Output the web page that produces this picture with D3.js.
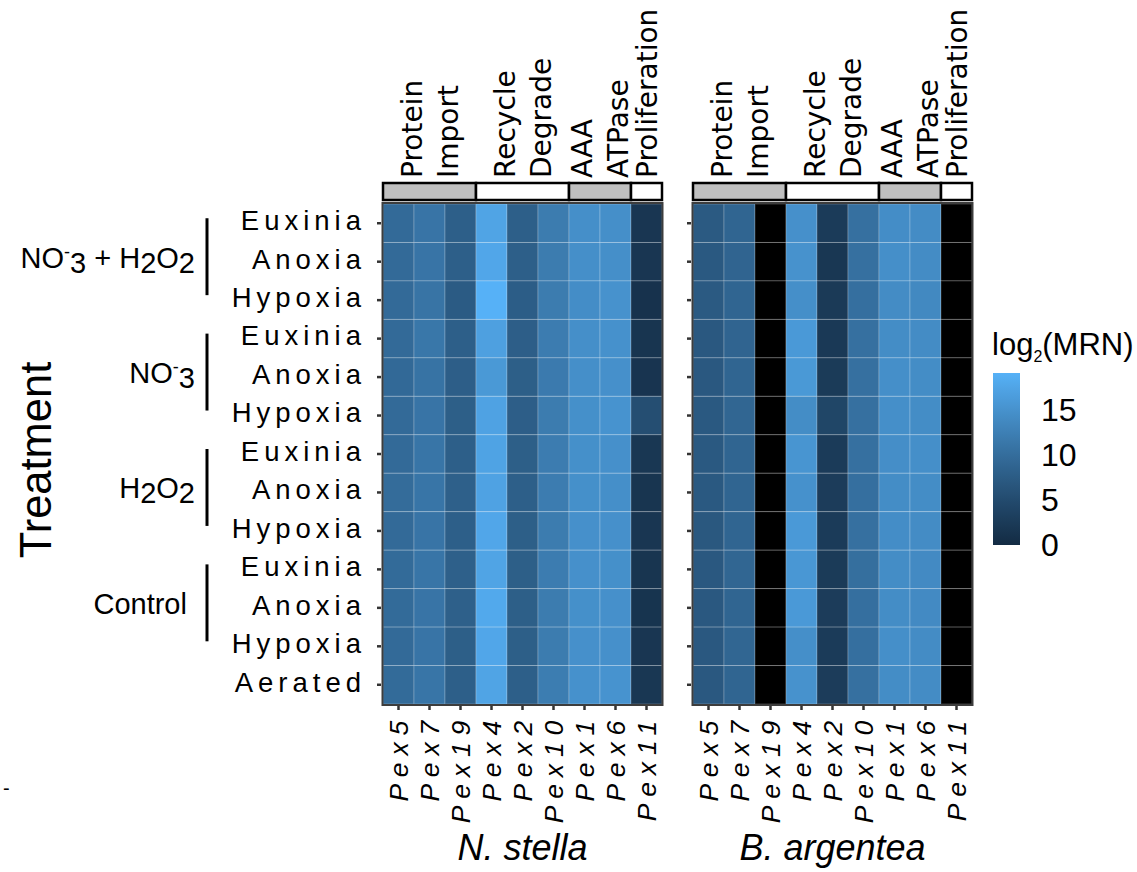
<!DOCTYPE html>
<html>
<head>
<meta charset="utf-8">
<script src="https://cdn.jsdelivr.net/npm/d3@7"></script>
<style>
  body { margin: 0; background: #fff; }
</style>
</head>
<body>
<div id="chart"></div>
<script>
// genes on x, conditions on y
const genes = ["Pex5", "Pex7", "Pex19", "Pex4", "Pex2", "Pex10", "Pex1", "Pex6", "Pex11"];
const conditions = ["Euxinia", "Anoxia", "Hypoxia", "Euxinia", "Anoxia", "Hypoxia",
  "Euxinia", "Anoxia", "Hypoxia", "Euxinia", "Anoxia", "Hypoxia", "Aerated"];
const species = ["N. stella", "B. argentea"];

// treatment groups (label parts: text + sub/sup flag) and the rows they cover
const treatmentLabels = [
  [["NO", ""], ["-", "sup"], ["3", "sub"], [" + H", ""], ["2", "sub"], ["O", ""], ["2", "sub"]],
  [["NO", ""], ["-", "sup"], ["3", "sub"]],
  [["H", ""], ["2", "sub"], ["O", ""], ["2", "sub"]],
  [["Control\u00a0", ""]]
];
const treatmentFirst = [0, 3, 6, 9];
const treatmentLast = [2, 5, 8, 11];

// functional groups along the top
const functionLabels = [["Protein", "Import"], ["Recycle", "Degrade"], ["AAA", "ATPase"], ["Proliferation"]];
const functionFirst = ["Pex5", "Pex4", "Pex1", "Pex11"];
const functionLast = ["Pex19", "Pex10", "Pex6", "Pex11"];

// log2(MRN), rows = conditions, cols = genes (null = not detected)
const nStella = [
  [9.6, 11.0, 8.0, 17.4, 8.0, 12.0, 14.6, 14.6, 1.8],
  [9.6, 11.0, 8.0, 17.7, 8.0, 12.0, 14.6, 14.6, 1.8],
  [9.6, 10.9, 7.4, 19.1, 7.7, 12.0, 14.4, 15.0, 1.2],
  [9.6, 11.3, 8.0, 16.9, 7.8, 12.1, 14.6, 14.9, 1.6],
  [9.4, 10.8, 7.8, 15.9, 7.9, 11.8, 14.6, 14.8, 1.5],
  [9.6, 11.0, 7.9, 17.2, 7.8, 12.0, 14.7, 15.2, 5.5],
  [9.6, 11.1, 8.0, 17.3, 7.9, 12.1, 14.7, 14.8, 1.9],
  [9.8, 11.1, 8.1, 17.2, 8.0, 12.1, 14.7, 14.6, 1.6],
  [9.6, 11.0, 8.0, 17.7, 7.9, 12.0, 14.8, 14.8, 1.8],
  [9.7, 11.1, 8.1, 17.4, 7.9, 12.1, 14.8, 14.7, 1.6],
  [9.7, 11.0, 8.1, 18.0, 7.9, 12.0, 14.7, 14.8, 1.4],
  [9.6, 11.0, 7.9, 17.7, 7.9, 12.0, 14.8, 14.8, 1.8],
  [9.7, 11.1, 8.0, 17.4, 8.0, 12.2, 14.9, 15.2, 1.9]
];
const bArgentea = [
  [7.2, 8.8, null, 14.8, 2.6, 10.4, 14.4, 14.2, null],
  [7.1, 8.7, null, 15.0, 1.9, 10.4, 14.6, 14.2, null],
  [7.2, 8.8, null, 14.6, 2.4, 10.3, 14.2, 13.8, null],
  [7.0, 8.7, null, 16.0, 2.3, 10.4, 14.3, 14.2, null],
  [7.0, 8.8, null, 15.9, 2.5, 10.4, 14.6, 14.3, null],
  [7.1, 8.9, null, 14.3, 4.2, 10.4, 14.6, 14.3, null],
  [7.1, 8.8, null, 15.4, 2.6, 10.4, 14.5, 14.6, null],
  [7.1, 8.8, null, 14.9, 2.7, 10.3, 14.3, 14.3, null],
  [6.9, 8.8, null, 16.0, 2.6, 10.4, 14.4, 14.2, null],
  [7.0, 8.9, null, 15.7, 2.5, 10.2, 14.3, 14.0, null],
  [7.0, 8.8, null, 16.0, 2.7, 10.3, 14.3, 14.0, null],
  [7.0, 8.9, null, 14.6, 2.6, 10.3, 14.6, 14.2, null],
  [7.0, 8.8, null, 15.0, 2.7, 10.4, 14.3, 14.2, null]
];
const fillDomain = [0, 19.1];
const legendTicks = [0, 5, 10, 15];

const WIDTH = 1137, HEIGHT = 872;
const PANEL_W = 279, TOP = 204, BOTTOM = 704;
const panelLeft = [383, 693];
const SANS = "'Liberation Sans', Arial, Helvetica, sans-serif";

const svg = d3.select("#chart").append("svg")
  .attr("width", WIDTH)
  .attr("height", HEIGHT)
  .style("font-family", SANS);

svg.append("rect").attr("width", WIDTH).attr("height", HEIGHT).attr("fill", "#fff");

// ggplot default gradient, lab interpolation
const color = d3.scaleLinear()
  .domain(fillDomain)
  .range(["#132B43", "#56B1F7"])
  .interpolate(d3.interpolateLab);

const y = d3.scaleBand().domain(d3.range(conditions.length)).range([TOP, BOTTOM]);

[nStella, bArgentea].forEach((data, p) => {
  const x = d3.scaleBand().domain(genes).range([panelLeft[p], panelLeft[p] + PANEL_W]);
  const g = svg.append("g");

  const cells = [];
  data.forEach((row, i) => row.forEach((v, j) => cells.push({ i: i, gene: genes[j], v: v })));

  g.selectAll("rect.cell")
    .data(cells)
    .enter().append("rect")
    .attr("class", "cell")
    .attr("x", d => x(d.gene))
    .attr("y", d => y(d.i))
    .attr("width", x.bandwidth())
    .attr("height", y.bandwidth())
    .attr("fill", d => d.v == null ? "#000" : color(d.v))
    .attr("stroke", "rgba(255,255,255,0.22)")
    .attr("stroke-width", 1);

  // panel border
  g.append("rect")
    .attr("x", panelLeft[p] - 0.5)
    .attr("y", TOP - 1)
    .attr("width", PANEL_W + 1)
    .attr("height", BOTTOM - TOP + 2)
    .attr("fill", "none")
    .attr("stroke", "#3d3d3d")
    .attr("stroke-width", 2);

  // left axis (labels only on first panel)
  const yAxis = d3.axisLeft(y)
    .tickSize(4)
    .tickPadding(11)
    .tickFormat(i => p === 0 ? conditions[i] : "");
  const ya = g.append("g")
    .attr("transform", "translate(" + (panelLeft[p] - 2) + ",0)")
    .call(yAxis);
  ya.select(".domain").remove();
  ya.selectAll(".tick line").attr("stroke", "#333").attr("stroke-width", 2.5);
  ya.selectAll(".tick text")
    .attr("fill", "#000")
    .style("font-family", SANS)
    .style("font-size", "27.5px")
    .style("letter-spacing", "5px")
    .attr("dy", "0.25em");

  // bottom axis, rotated gene names
  const xAxis = d3.axisBottom(x).tickSize(4);
  const xa = g.append("g")
    .attr("transform", "translate(0," + (BOTTOM + 2) + ")")
    .call(xAxis);
  xa.select(".domain").remove();
  xa.selectAll(".tick line").attr("stroke", "#333").attr("stroke-width", 2.5);
  xa.selectAll(".tick text")
    .attr("fill", "#000")
    .attr("transform", "rotate(-90)")
    .attr("x", -8)
    .attr("y", 9.5)
    .attr("dy", null)
    .attr("text-anchor", "end")
    .style("font-family", SANS)
    .style("font-style", "italic")
    .style("font-size", "26.5px")
    .style("letter-spacing", "6.8px");

  // functional group bar on top
  functionLabels.forEach((lab, k) => {
    const x0 = x(functionFirst[k]);
    const x1 = x(functionLast[k]) + x.bandwidth();
    g.append("rect")
      .attr("x", x0)
      .attr("y", 183)
      .attr("width", x1 - x0)
      .attr("height", 17)
      .attr("fill", k % 2 === 0 ? "#bfbfbf" : "#fff")
      .attr("stroke", "#000")
      .attr("stroke-width", 2.5);

    const cx = (x0 + x1) / 2;
    const offsets = lab.length === 2 ? [-8, 28] : [10.5];
    lab.forEach((line, li) => {
      g.append("text")
        .attr("transform", "translate(" + (cx + offsets[li]) + ",178) rotate(-90)")
        .attr("text-anchor", "start")
        .style("font-family", "'DejaVu Sans', Verdana, sans-serif")
        .style("font-size", "28px")
        .attr("fill", "#000")
        .text(line);
    });
  });

  // species title
  g.append("text")
    .attr("x", panelLeft[p] + PANEL_W / 2)
    .attr("y", 860)
    .attr("text-anchor", "middle")
    .style("font-style", "italic")
    .style("font-size", "36px")
    .attr("fill", "#000")
    .text(species[p]);
});

// treatment groups on the left
treatmentLabels.forEach((parts, k) => {
  const yTop = y(treatmentFirst[k]) + y.bandwidth() / 2 - 5;
  const yBot = y(treatmentLast[k]) + y.bandwidth() / 2 - 5;
  svg.append("line")
    .attr("x1", 207).attr("x2", 207)
    .attr("y1", yTop).attr("y2", yBot)
    .attr("stroke", "#000")
    .attr("stroke-width", 3);

  const mid = (treatmentFirst[k] + treatmentLast[k]) / 2;
  const t = svg.append("text")
    .attr("x", 195)
    .attr("y", y(mid) + y.bandwidth() / 2 + 6)
    .attr("text-anchor", "end")
    .style("font-size", "29px")
    .attr("fill", "#000");
  parts.forEach(([txt, kind]) => {
    const s = t.append("tspan").text(txt);
    if (kind === "sup") s.attr("baseline-shift", "10px").style("font-size", "18px");
    if (kind === "sub") s.attr("baseline-shift", "-5px");
  });
});

svg.append("text")
  .attr("transform", "translate(51,460) rotate(-90)")
  .attr("text-anchor", "middle")
  .style("font-size", "43.5px")
  .attr("fill", "#000")
  .text("Treatment");

// stray mark at far left
svg.append("text")
  .attr("x", 3).attr("y", 795)
  .style("font-size", "20px")
  .attr("fill", "#000")
  .text("-");

// legend
const ly = d3.scaleLinear().domain(fillDomain).range([545, 373]);
const grad = svg.append("defs").append("linearGradient")
  .attr("id", "fillgrad")
  .attr("x1", 0).attr("y1", 1).attr("x2", 0).attr("y2", 0);
d3.range(0, 1.0001, 0.05).forEach(f => {
  grad.append("stop")
    .attr("offset", f)
    .attr("stop-color", color(fillDomain[0] + f * (fillDomain[1] - fillDomain[0])));
});
svg.append("rect")
  .attr("x", 993)
  .attr("y", ly(fillDomain[1]))
  .attr("width", 27)
  .attr("height", ly(fillDomain[0]) - ly(fillDomain[1]))
  .attr("fill", "url(#fillgrad)");

const legAxis = svg.append("g")
  .attr("transform", "translate(1038,0)")
  .call(d3.axisRight(ly).tickValues(legendTicks).tickSize(0).tickPadding(3));
legAxis.select(".domain").remove();
legAxis.selectAll(".tick text")
  .attr("fill", "#000")
  .style("font-family", SANS)
  .style("font-size", "32px");

const lt = svg.append("text")
  .attr("x", 992)
  .attr("y", 355)
  .style("font-size", "31px")
  .attr("fill", "#000");
lt.append("tspan").text("log");
lt.append("tspan").attr("dy", 7).style("font-size", "16px").text("2");
lt.append("tspan").attr("dy", -7).text("(MRN)");
</script>
</body>
</html>
